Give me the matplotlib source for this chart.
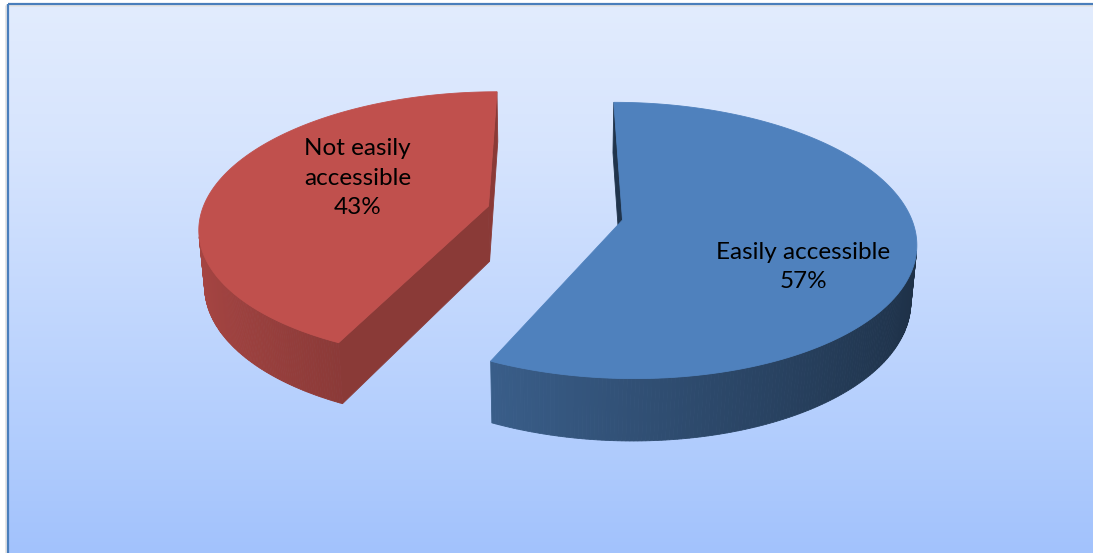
import numpy as np
import matplotlib
matplotlib.use("Agg")
import matplotlib.pyplot as plt
from matplotlib.patches import Polygon, Rectangle
from matplotlib.colors import to_rgb

labels = ["Easily accessible", "Not easily\naccessible"]
shares = [57, 43]
colors = ["#4F81BD", "#C0504D"]

W, H = 1093, 553

# view of the 3d pie (perspective camera looking down at the disc)
tilt = np.radians(27)
dist = 6.06
focal = 1776
squeeze = 0.98
depth = 0.216
explode = 0.239
cx, cy = 555, 213

cam = np.array([0, -dist * np.cos(tilt), dist * np.sin(tilt)])
fwd = np.array([0, np.cos(tilt), -np.sin(tilt)])
up = np.array([0, np.sin(tilt), np.cos(tilt)])
right = np.array([1.0, 0, 0])
dz = np.array([0, 0, depth])


def project(p):
    p = np.atleast_2d(p)
    v = p - cam
    zc = v @ fwd
    return np.c_[cx + squeeze * focal * (v @ right) / zc, cy - focal * (v @ up) / zc]


def shade(col, k):
    return tuple(np.clip(np.array(to_rgb(col)) * k, 0, 1))


fig = plt.figure(figsize=(W / 100, H / 100), dpi=100)
ax = fig.add_axes([0, 0, 1, 1])
ax.set_xlim(0, W)
ax.set_ylim(H, 0)
ax.axis("off")

# chart area background, runs off the right and bottom edges
rows = np.arange(4, H + 41)
stops_y = [4, 150, 450, 553]
stops_c = np.array([[226, 236, 253], [214, 228, 253], [176, 204, 253], [162, 194, 252]]) / 255
grad = np.stack([np.interp(rows, stops_y, stops_c[:, i]) for i in range(3)], axis=1)
ax.imshow(grad[:, None, :], extent=(8, W + 40, H + 40, 4), aspect="auto",
          origin="upper", interpolation="nearest", zorder=0)
ax.add_patch(Rectangle((6, 5), W + 60, H + 60, fill=False, edgecolor="#E4E4E4", lw=2, zorder=0))
ax.add_patch(Rectangle((8, 4), W + 60, H + 60, fill=False, edgecolor="#4A7EBB", lw=1.6, zorder=1))

start = 0.0
total = sum(shares)
label_r = [0.67, 0.53]
label_turn = [17, 12]
for lab, val, col, lr, lt in zip(labels, shares, colors, label_r, label_turn):
    span = 360 * val / total
    t0, t1 = start, start + span
    mid = np.radians(start + span / 2)
    off = explode * np.array([np.sin(mid), np.cos(mid), 0])

    th = np.radians(np.linspace(t0, t1, 300))
    rim_top = off + np.c_[np.sin(th), np.cos(th), np.zeros_like(th)]
    rim_bot = rim_top - dz

    faces = []
    # outer wall, in thin strips so the shading can follow the curve
    for i in range(len(th) - 1):
        tm = th[i:i + 2].mean()
        n = np.array([np.sin(tm), np.cos(tm), 0])
        c = (rim_top[i] + rim_top[i + 1]) / 2 - dz / 2
        if n @ (cam - c) <= 0:
            continue
        k = np.clip(0.62 - 0.25 * np.sin(tm), 0.3, 1)
        quad = np.array([rim_top[i], rim_top[i + 1], rim_bot[i + 1], rim_bot[i]])
        faces.append((np.linalg.norm(c - cam), quad, shade(col, k)))

    # flat cut faces along the two radii
    for t, sgn in ((t0, -1), (t1, 1)):
        a = np.radians(t)
        e = off + np.array([np.sin(a), np.cos(a), 0])
        n = sgn * np.array([np.cos(a), -np.sin(a), 0])
        c = (off + e) / 2 - dz / 2
        if n @ (cam - c) <= 0:
            continue
        quad = np.array([off, e, e - dz, off - dz])
        k = 0.72 if n[0] > 0 else 0.4
        faces.append((np.linalg.norm(c - cam), quad, shade(col, k)))

    for _, quad, fc in sorted(faces, key=lambda f: -f[0]):
        ax.add_patch(Polygon(project(quad), closed=True, facecolor=fc,
                             edgecolor=fc, lw=0.6, zorder=2))

    top = np.vstack([off, rim_top])
    ax.add_patch(Polygon(project(top), closed=True, facecolor=col,
                         edgecolor=col, lw=0.6, zorder=3))

    la = mid + np.radians(lt)
    lx, ly = project(off + lr * np.array([np.sin(la), np.cos(la), 0]))[0]
    ax.text(lx, ly, f"{lab}\n{val}%", ha="center", va="center", fontsize=17.5,
            family=["Lato", "DejaVu Sans"], linespacing=1.5, color="black", zorder=4)

    start = t1

fig.savefig("out.png", dpi=100)
